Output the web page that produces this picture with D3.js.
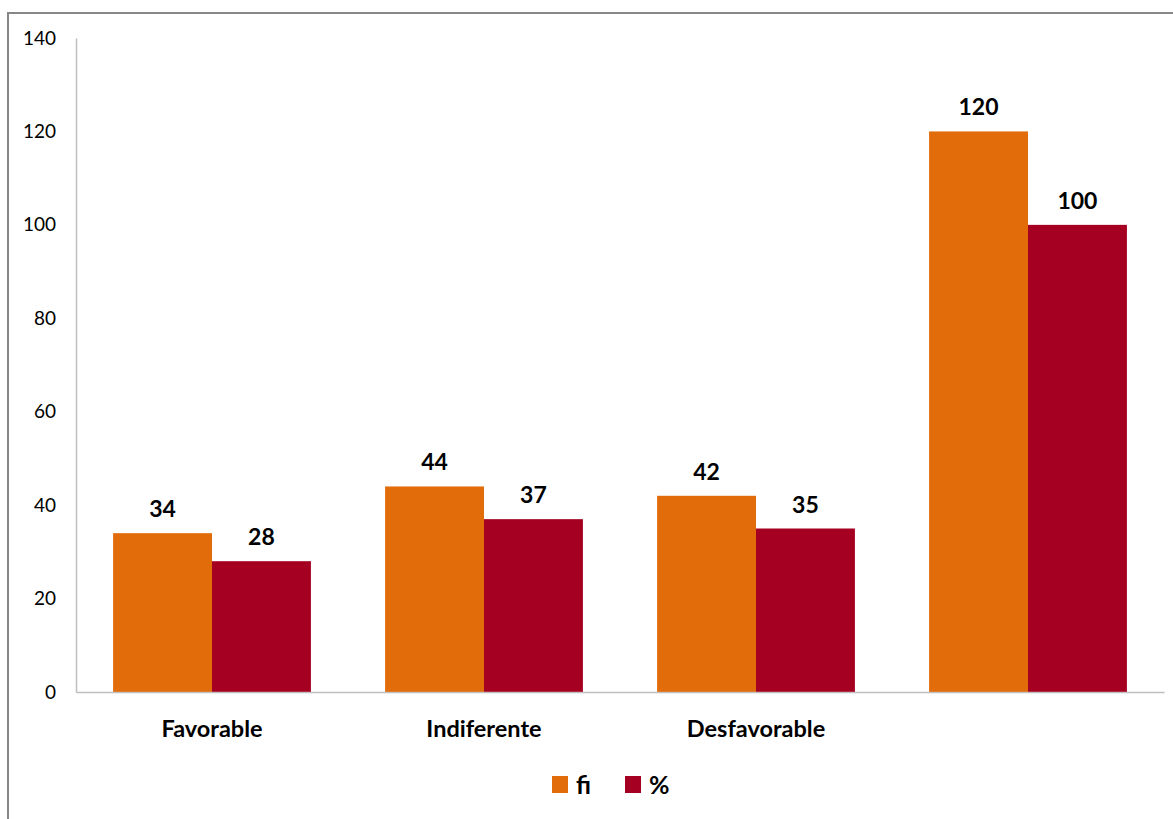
<!DOCTYPE html>
<html><head><meta charset="utf-8">
<script src="https://cdn.jsdelivr.net/npm/d3@7/dist/d3.min.js"></script>
<style>
html,body{margin:0;padding:0;background:#fff;}
svg{display:block;font-family:"Lato","Open Sans",sans-serif;}
</style></head>
<body>
<svg id="chart" width="1173" height="819"></svg>
<script>
const categories = ["Favorable", "Indiferente", "Desfavorable", ""];
const seriesNames = ["fi", "%"];
const fiValues = [34, 44, 42, 120];
const pctValues = [28, 37, 35, 100];
const yTicks = [0, 20, 40, 60, 80, 100, 120, 140];
const colors = ["#E36C0A", "#A50021"];

const svg = d3.select("#chart");
const W = 1173, H = 819;
const plot = {left: 76, right: 1164, top: 38, bottom: 692};

// outer frame (cut off at right/bottom like the reference)
svg.append("rect").attr("x", 8).attr("y", 13).attr("width", W + 20).attr("height", H + 20)
  .attr("fill", "#fff").attr("stroke", "#878787").attr("stroke-width", 2);

const y = d3.scaleLinear().domain([0, 140]).range([plot.bottom, plot.top]);
const x0 = d3.scaleBand().domain(categories).range([plot.left, plot.right]).padding(0);
const gapFrac = 0.75 / (2 + 0.75);
const x1 = d3.scaleBand().domain(seriesNames)
  .range([x0.bandwidth() * gapFrac / 2, x0.bandwidth() * (1 - gapFrac / 2)]).padding(0);

const data = categories.map((c, i) => ({cat: c, vals: [
  {s: seriesNames[0], v: fiValues[i], color: colors[0]},
  {s: seriesNames[1], v: pctValues[i], color: colors[1]}
]}));

// bars
const g = svg.append("g");
const groups = g.selectAll("g.cat").data(data).join("g")
  .attr("transform", d => `translate(${x0(d.cat)},0)`);
groups.selectAll("rect").data(d => d.vals).join("rect")
  .attr("x", d => x1(d.s)).attr("width", x1.bandwidth())
  .attr("y", d => y(d.v)).attr("height", d => y(0) - y(d.v))
  .attr("fill", d => d.color);
groups.selectAll("text").data(d => d.vals).join("text")
  .attr("x", d => x1(d.s) + x1.bandwidth() / 2)
  .attr("y", d => y(d.v) - 16)
  .attr("text-anchor", "middle").attr("font-weight", "bold").attr("font-size", 23)
  .attr("fill", "#000").text(d => d.v);

// y axis
const yAxis = d3.axisLeft(y).tickValues(yTicks).tickSize(0).tickPadding(20);
const ya = svg.append("g").attr("transform", `translate(${plot.left},0)`).call(yAxis);
ya.select(".domain").attr("stroke", "#BFBFBF").attr("stroke-width", 1.5);
ya.selectAll("text").attr("font-size", 19).attr("fill", "#000")
  .attr("font-family", "Lato, 'Open Sans', sans-serif");

// x axis
const xAxis = d3.axisBottom(x0).tickSize(0).tickPadding(28);
const xa = svg.append("g").attr("transform", `translate(0,${plot.bottom})`).call(xAxis);
xa.select(".domain").attr("stroke", "#BFBFBF").attr("stroke-width", 1.5);
xa.selectAll("text").attr("font-size", 23.5).attr("font-weight", "bold").attr("fill", "#000")
  .attr("font-family", "Lato, 'Open Sans', sans-serif");

// legend
const legendItems = [
  {name: seriesNames[0], color: colors[0], x: 552},
  {name: seriesNames[1], color: colors[1], x: 625}
];
const lg = svg.append("g");
lg.selectAll("rect").data(legendItems).join("rect")
  .attr("x", d => d.x).attr("y", 776).attr("width", 16).attr("height", 17)
  .attr("fill", d => d.color);
lg.selectAll("text").data(legendItems).join("text")
  .attr("x", d => d.x + 24).attr("y", 794)
  .attr("font-size", 25).attr("font-weight", "bold").attr("fill", "#000")
  .text(d => d.name);
</script>
</body></html>
